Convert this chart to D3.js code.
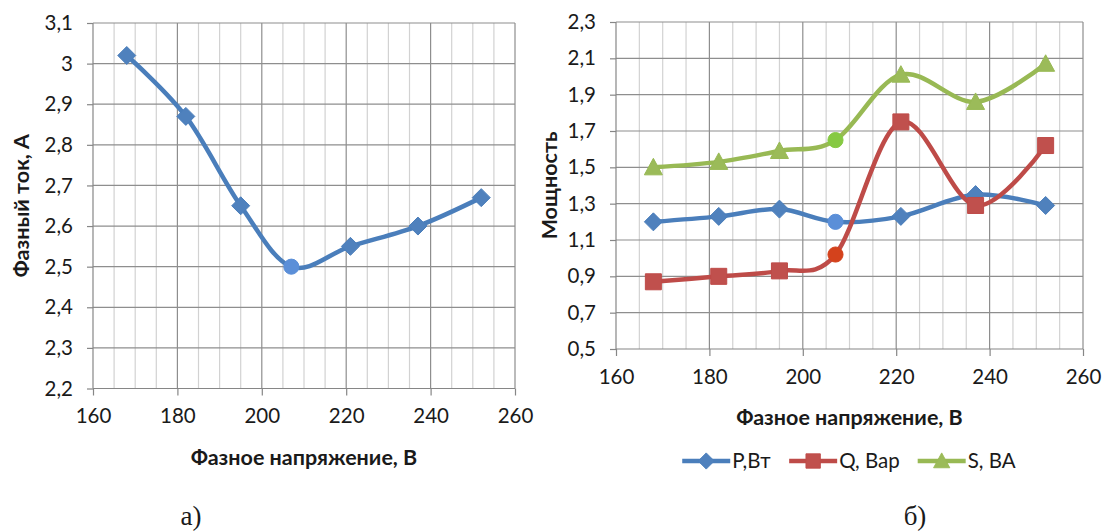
<!DOCTYPE html>
<html>
<head>
<meta charset="utf-8">
<script src="https://cdn.jsdelivr.net/npm/d3@7"></script>
<style>
  html, body { margin: 0; padding: 0; background: #ffffff; }
  svg { display: block; }
  text { font-family: Lato, "Open Sans", sans-serif; fill: #1a1a1a; }
</style>
</head>
<body>
<svg id="fig" width="1104" height="531"></svg>
<script>
// Фазное напряжение, В
const voltage = [168, 182, 195, 207, 221, 237, 252];
// Фазный ток, А
const current = [3.02, 2.87, 2.65, 2.50, 2.55, 2.60, 2.67];
// Мощность: P, Q, S
const powerP = [1.20, 1.23, 1.27, 1.20, 1.23, 1.35, 1.29];
const powerQ = [0.87, 0.90, 0.93, 1.02, 1.75, 1.29, 1.62];
const powerS = [1.50, 1.53, 1.59, 1.65, 2.01, 1.86, 2.07];
const seriesNames = ["P,Вт", "Q, Вар", "S, ВА"];
// point drawn with a round marker
const roundPointVoltage = 207;

const xTicks = [160, 180, 200, 220, 240, 260];
const xMinorStep = 5;
const currentTicks = [2.2, 2.3, 2.4, 2.5, 2.6, 2.7, 2.8, 2.9, 3.0, 3.1];
const powerTicks = [0.5, 0.7, 0.9, 1.1, 1.3, 1.5, 1.7, 1.9, 2.1, 2.3];

const xTitle = "Фазное напряжение, В";
const currentTitle = "Фазный ток, А";
const powerTitle = "Мощность";
const captions = ["а)", "б)"];

const ru = d3.formatLocale({ decimal: ",", thousands: " ", grouping: [3], currency: ["", " ₽"] });
const fmt = ru.format("~g");

const svg = d3.select("#fig");

const COLORS = {
  blue:  { line: "#4a7ebb", fill: "#4f81bd", round: "#5b8fd8" },
  red:   { line: "#be4b48", fill: "#c0504d", round: "#d4421c" },
  green: { line: "#98b954", fill: "#9bbb59", round: "#86c943" }
};

function markerPath(type) {
  switch (type) {
    case "diamond": return "M0,-9L9,0L0,9L-9,0Z";
    case "square":  return "M-8,-8H8V8H-8Z";
    case "triangle":return "M0,-9L9,7.5H-9Z";
    default:        return d3.symbol(d3.symbolCircle, 180)();
  }
}

function drawPanel(cfg) {
  const g = svg.append("g");
  const x = d3.scaleLinear().domain([xTicks[0], xTicks[xTicks.length - 1]]).range([cfg.left, cfg.right]);
  const y = d3.scaleLinear().domain([cfg.yTicks[0], cfg.yTicks[cfg.yTicks.length - 1]]).range([cfg.bottom, cfg.top]);

  // minor vertical grid
  const minor = d3.range(xTicks[0], xTicks[xTicks.length - 1] + 0.01, xMinorStep).filter(v => !xTicks.includes(v));
  g.append("g").selectAll("line").data(minor).join("line")
    .attr("x1", d => x(d)).attr("x2", d => x(d))
    .attr("y1", cfg.top).attr("y2", cfg.bottom)
    .attr("stroke", "#d2d2d2").attr("stroke-width", 1.2);

  // major vertical grid
  g.append("g").selectAll("line").data(xTicks.slice(1)).join("line")
    .attr("x1", d => x(d)).attr("x2", d => x(d))
    .attr("y1", cfg.top).attr("y2", cfg.bottom)
    .attr("stroke", "#8e8e8e").attr("stroke-width", 1.2);

  // horizontal grid
  g.append("g").selectAll("line").data(cfg.yTicks.slice(1)).join("line")
    .attr("x1", cfg.left).attr("x2", cfg.right)
    .attr("y1", d => y(d)).attr("y2", d => y(d))
    .attr("stroke", "#8e8e8e").attr("stroke-width", 1.2);

  // axes
  const xAxis = d3.axisBottom(x).tickValues(xTicks).tickSize(7).tickFormat(fmt).tickPadding(13);
  const yAxis = d3.axisLeft(y).tickValues(cfg.yTicks).tickSize(6).tickFormat(fmt).tickPadding(14);

  const gx = g.append("g").attr("transform", `translate(0,${cfg.bottom})`).call(xAxis);
  const gy = g.append("g").attr("transform", `translate(${cfg.left},0)`).call(yAxis);
  [gx, gy].forEach(a => {
    a.select(".domain").attr("stroke", "#868686").attr("stroke-width", 1.2);
    a.selectAll(".tick line").attr("stroke", "#868686").attr("stroke-width", 1.2);
    a.selectAll(".tick text").attr("font-size", 20.5).attr("fill", "#1a1a1a")
      .attr("font-family", "Lato, 'Open Sans', sans-serif");
  });
  gx.select(".domain").attr("d", `M${cfg.left},0H${cfg.right}`);
  gy.select(".domain").attr("d", `M0,${cfg.top}V${cfg.bottom}`);

  // axis titles
  g.append("text")
    .attr("x", (cfg.left + cfg.right) / 2).attr("y", cfg.bottom + 76)
    .attr("text-anchor", "middle").attr("font-size", 21.5).attr("font-weight", 700)
    .text(xTitle);
  g.append("text")
    .attr("transform", `translate(${cfg.yTitleX},${(cfg.top + cfg.bottom) / 2}) rotate(-90)`)
    .attr("text-anchor", "middle").attr("font-size", 21.5).attr("font-weight", 700)
    .text(cfg.yTitle);

  // series
  const line = d3.line().curve(d3.curveCatmullRom.alpha(0))
    .x(d => x(d[0])).y(d => y(d[1]));

  cfg.series.forEach(s => {
    const pts = voltage.map((v, i) => [v, s.values[i]]);
    g.append("path").attr("d", line(pts))
      .attr("fill", "none").attr("stroke", s.color.line)
      .attr("stroke-width", 4.5).attr("stroke-linejoin", "round").attr("stroke-linecap", "round");
  });
  cfg.series.forEach(s => {
    const pts = voltage.map((v, i) => [v, s.values[i]]);
    g.append("g").selectAll("path").data(pts).join("path")
      .attr("transform", d => `translate(${x(d[0])},${y(d[1])})`)
      .attr("d", d => markerPath(d[0] === roundPointVoltage ? "circle" : s.marker))
      .attr("fill", d => d[0] === roundPointVoltage ? s.color.round : s.color.fill)
      .attr("stroke", d => d[0] === roundPointVoltage ? s.color.round : s.color.line)
      .attr("stroke-width", 1);
  });
  return { x, y };
}

// а) phase current
drawPanel({
  left: 93, right: 515, top: 23, bottom: 388.5,
  yTicks: currentTicks, yTitle: currentTitle, yTitleX: 29,
  series: [{ values: current, color: COLORS.blue, marker: "diamond" }]
});

// б) power
drawPanel({
  left: 616, right: 1083, top: 22, bottom: 349,
  yTicks: powerTicks, yTitle: powerTitle, yTitleX: 557,
  series: [
    { values: powerP, color: COLORS.blue,  marker: "diamond" },
    { values: powerQ, color: COLORS.red,   marker: "square" },
    { values: powerS, color: COLORS.green, marker: "triangle" }
  ]
});

// legend under the power chart
const legendItems = [
  { name: seriesNames[0], color: COLORS.blue,  marker: "diamond" },
  { name: seriesNames[1], color: COLORS.red,   marker: "square" },
  { name: seriesNames[2], color: COLORS.green, marker: "triangle" }
];
const legend = svg.append("g");
let cx = 0;
const items = legend.selectAll("g").data(legendItems).join("g");
items.each(function(d) {
  const it = d3.select(this);
  it.append("line").attr("x1", 0).attr("x2", 48).attr("y1", 0).attr("y2", 0)
    .attr("stroke", d.color.line).attr("stroke-width", 4.5);
  it.append("path").attr("transform", "translate(24,0) scale(0.9)").attr("d", markerPath(d.marker))
    .attr("fill", d.color.fill).attr("stroke", d.color.line);
  it.append("text").attr("x", 50).attr("y", 7).attr("font-size", 20.5).text(d.name);
});
items.each(function() {
  const w = this.getBBox().width;
  d3.select(this).attr("transform", `translate(${cx},0)`);
  cx += w + 18;
});
const legendWidth = cx - 18;
legend.attr("transform", `translate(${849 - legendWidth / 2},461)`);

// panel captions
svg.selectAll(".caption").data(captions).join("text")
  .attr("class", "caption")
  .attr("x", (d, i) => [191, 915][i]).attr("y", 525)
  .attr("text-anchor", "middle")
  .attr("style", "font-family:'Liberation Serif','Times New Roman',serif")
  .attr("font-size", 27)
  .text(d => d);
</script>
</body>
</html>
